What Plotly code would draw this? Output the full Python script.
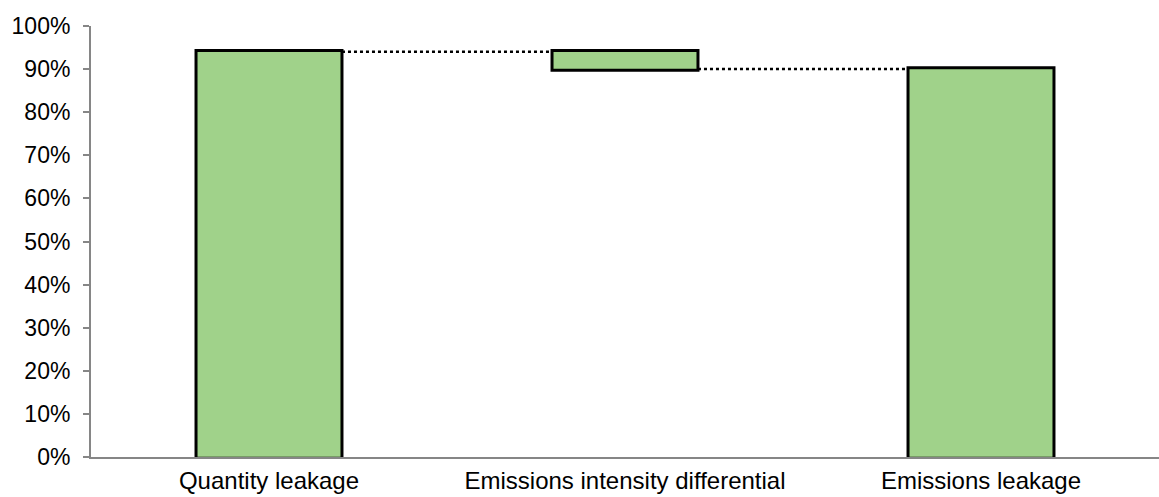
import plotly.graph_objects as go

# Leakage decomposition: quantity leakage, intensity adjustment, resulting emissions leakage
categories = ["Quantity leakage", "Emissions intensity differential", "Emissions leakage"]
measures = ["absolute", "relative", "total"]
values = [0.94, -0.04, 0.90]

bar_fill = "#A0D28A"
axis_grey = "#868686"

fig = go.Figure(
    go.Waterfall(
        x=categories,
        y=values,
        measure=measures,
        width=0.41,
        increasing=dict(marker=dict(color=bar_fill, line=dict(color="black", width=3))),
        decreasing=dict(marker=dict(color=bar_fill, line=dict(color="black", width=3))),
        totals=dict(marker=dict(color=bar_fill, line=dict(color="black", width=3))),
        connector=dict(mode="between", line=dict(color="black", width=2.5, dash="dot")),
        showlegend=False,
        hoverinfo="skip",
    )
)

fig.update_layout(
    width=1159,
    height=497,
    margin=dict(l=91, r=0, t=26, b=40),
    paper_bgcolor="white",
    plot_bgcolor="white",
    font=dict(family="Liberation Sans, Arial, sans-serif", size=23, color="black"),
)
fig.update_yaxes(
    range=[0, 1],
    tickvals=[i / 10 for i in range(11)],
    tickformat=".0%",
    showgrid=False,
    zeroline=False,
    showline=True,
    linecolor=axis_grey,
    linewidth=2,
    ticks="outside",
    ticklen=6,
    tickwidth=2,
    tickcolor=axis_grey,
    ticklabelstandoff=8,
    tickfont=dict(size=23),
)
fig.update_xaxes(
    showgrid=False,
    showline=True,
    linecolor=axis_grey,
    linewidth=2,
    ticks="",
    tickfont=dict(size=24),
    ticklabelstandoff=1,
)

fig.write_html("out.html")
